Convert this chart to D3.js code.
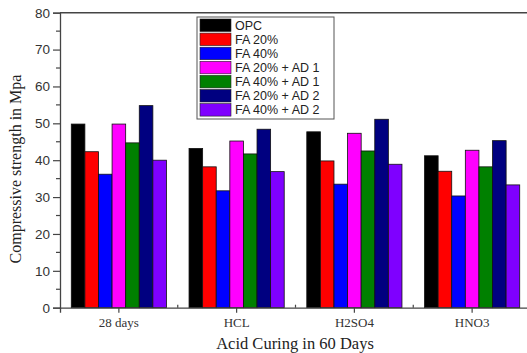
<!DOCTYPE html>
<html>
<head>
<meta charset="utf-8">
<script src="https://cdn.jsdelivr.net/npm/d3@7"></script>
<style>
  body { margin: 0; background: #fff; }
  svg { display: block; }
</style>
</head>
<body>
<svg class="chart" width="527" height="353"></svg>
<script>
// data
var categories = ["28 days", "HCL", "H2SO4", "HNO3"];
var seriesNames = ["OPC", "FA 20%", "FA 40%", "FA 20% + AD 1", "FA 40% + AD 1", "FA 20% + AD 2", "FA 40% + AD 2"];
var seriesColors = ["#000000", "#ff0000", "#0000ff", "#ff00ff", "#008000", "#000080", "#7f00ff"];
var opc      = [49.8, 43.2, 47.7, 41.2];
var fa20     = [42.3, 38.2, 39.8, 37.0];
var fa40     = [36.2, 31.7, 33.5, 30.3];
var fa20ad1  = [49.8, 45.2, 47.3, 42.7];
var fa40ad1  = [44.7, 41.7, 42.5, 38.2];
var fa20ad2  = [54.8, 48.4, 51.1, 45.3];
var fa40ad2  = [40.0, 36.9, 38.9, 33.3];
var yTicks = [0, 10, 20, 30, 40, 50, 60, 70, 80];

var seriesValues = [opc, fa20, fa40, fa20ad1, fa40ad1, fa20ad2, fa40ad2];

var svg = d3.select("svg.chart"),
    margin = {top: 12.7, right: -4, bottom: 45.3, left: 60},
    width = +svg.attr("width") - margin.left - margin.right,
    height = +svg.attr("height") - margin.top - margin.bottom,
    g = svg.append("g").attr("transform", "translate(" + margin.left + "," + margin.top + ")");

var x0 = d3.scaleBand().domain(categories).range([0, width]).padding(0);
var x1 = d3.scaleBand().domain(d3.range(seriesNames.length))
    .range([0, x0.bandwidth()]).paddingInner(0).paddingOuter(0.83);
var y = d3.scaleLinear().domain([0, 80]).range([height, 0]);

var data = categories.map(function(c, i) {
  return { name: c, values: seriesValues.map(function(s) { return s[i]; }) };
});

// bars
g.append("g")
  .selectAll("g")
  .data(data)
  .enter().append("g")
    .attr("transform", function(d) { return "translate(" + x0(d.name) + ",0)"; })
  .selectAll("rect")
  .data(function(d) { return d.values.map(function(v, k) { return {k: k, v: v}; }); })
  .enter().append("rect")
    .attr("x", function(d) { return x1(d.k); })
    .attr("y", function(d) { return y(d.v); })
    .attr("width", x1.bandwidth())
    .attr("height", function(d) { return y(0) - y(d.v); })
    .attr("fill", function(d) { return seriesColors[d.k]; })
    .attr("stroke", "#111")
    .attr("stroke-width", 0.8);

// y axis
var yAxis = g.append("g")
    .attr("class", "axis")
    .call(d3.axisLeft(y).tickValues(yTicks).tickSize(7).tickPadding(3));
yAxis.select(".domain").attr("stroke", "#444").attr("stroke-width", 1.3);
yAxis.selectAll(".tick line").attr("stroke", "#444").attr("stroke-width", 1.2);
yAxis.selectAll("text")
    .attr("font-family", "Liberation Sans, Arial, sans-serif")
    .attr("font-size", 13.5)
    .attr("fill", "#333");

// minor y ticks
g.append("g")
  .selectAll("line")
  .data(d3.range(5, 80, 10))
  .enter().append("line")
    .attr("x1", -4).attr("x2", 0)
    .attr("y1", function(d) { return y(d); })
    .attr("y2", function(d) { return y(d); })
    .attr("stroke", "#444")
    .attr("stroke-width", 1.2);

// x axis
var xAxis = g.append("g")
    .attr("transform", "translate(0," + height + ")")
    .call(d3.axisBottom(x0).tickSize(5).tickPadding(5));
xAxis.select(".domain").attr("stroke", "#444").attr("stroke-width", 1.3);
xAxis.selectAll(".tick line").attr("stroke", "#444").attr("stroke-width", 1.2);
xAxis.selectAll("text")
    .attr("font-family", "Liberation Serif, Times New Roman, serif")
    .attr("font-size", 13)
    .attr("fill", "#333");

// minor x ticks between groups
g.append("g")
  .selectAll("line")
  .data(categories.slice(1))
  .enter().append("line")
    .attr("x1", function(d) { return x0(d); })
    .attr("x2", function(d) { return x0(d); })
    .attr("y1", height - 3)
    .attr("y2", height)
    .attr("stroke", "#444")
    .attr("stroke-width", 1.2);

// top frame
g.append("line")
    .attr("x1", 0).attr("x2", width)
    .attr("y1", 0).attr("y2", 0)
    .attr("stroke", "#444")
    .attr("stroke-width", 1.5);

// axis titles
svg.append("text")
    .attr("x", 295)
    .attr("y", 349)
    .attr("text-anchor", "middle")
    .attr("font-family", "Liberation Serif, Times New Roman, serif")
    .attr("font-size", 16.5)
    .attr("fill", "#222")
    .text("Acid Curing in 60 Days");

svg.append("text")
    .attr("transform", "translate(21,169) rotate(-90)")
    .attr("text-anchor", "middle")
    .attr("font-family", "Liberation Serif, Times New Roman, serif")
    .attr("font-size", 16)
    .attr("fill", "#222")
    .text("Compressive strength in Mpa");

// legend
var legend = svg.append("g")
    .attr("transform", "translate(197,17)");

legend.append("rect")
    .attr("x", 0).attr("y", 0)
    .attr("width", 137).attr("height", 102)
    .attr("fill", "#fff")
    .attr("stroke", "#555")
    .attr("stroke-width", 1);

var item = legend.selectAll("g.item")
  .data(seriesNames)
  .enter().append("g")
    .attr("class", "item")
    .attr("transform", function(d, i) { return "translate(3," + (2 + i * 14.1) + ")"; });

item.append("rect")
    .attr("width", 31)
    .attr("height", 12.5)
    .attr("fill", function(d, i) { return seriesColors[i]; })
    .attr("stroke", "#222")
    .attr("stroke-width", 0.6);

item.append("text")
    .attr("x", 35)
    .attr("y", 6.5)
    .attr("dy", "0.35em")
    .attr("font-family", "Liberation Sans, Arial, sans-serif")
    .attr("font-size", 12.5)
    .attr("fill", "#222")
    .text(function(d) { return d; });
</script>
</body>
</html>
